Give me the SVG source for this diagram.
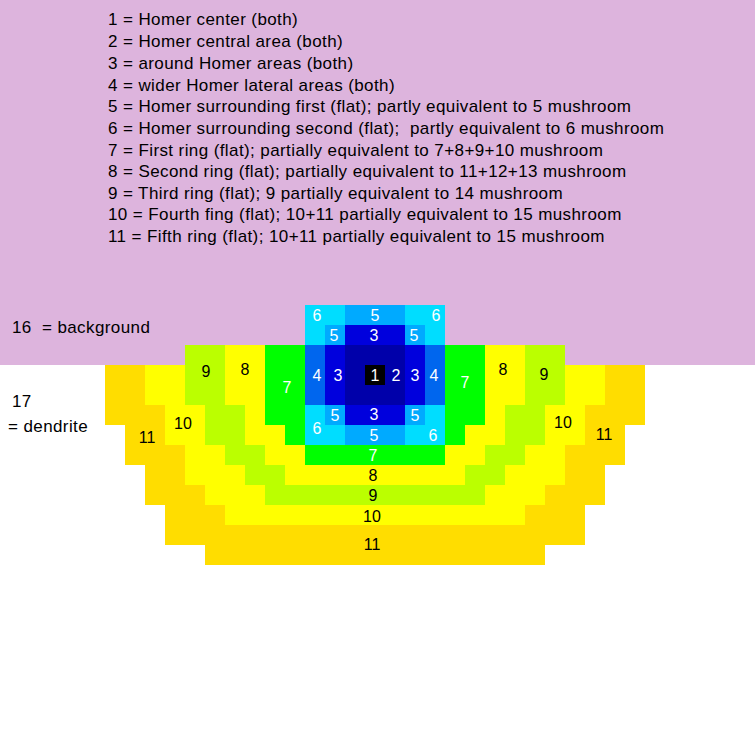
<svg xmlns="http://www.w3.org/2000/svg" width="755" height="755" viewBox="0 0 755 755">
<style>
text{font-family:"Liberation Sans",Arial,sans-serif;font-size:16px}
.lg text{font-size:17px;letter-spacing:0.4px}
.lg{fill:#000}
.w{fill:#fff;text-anchor:middle}
.b{fill:#000;text-anchor:middle}
.c1{fill:#000}
.c2{fill:#0000AA}
.c3{fill:#0000DD}
.c4{fill:#0066EE}
.c5{fill:#00AAFF}
.c6{fill:#00DDFF}
.c7{fill:#00FF00}
.c8{fill:#FFFF00}
.c9{fill:#BBFF00}
.c10{fill:#FFFF00}
.c11{fill:#FFDD00}
</style>
<rect id="background" x="0" y="0" width="755" height="755" fill="#fff"/>
<rect id="region-16" x="0" y="0" width="755" height="365" fill="#DDB4DD"/>
<g id="legend" class="lg">
<text x="108" y="25">1 = Homer center (both)</text>
<text x="108" y="47">2 = Homer central area (both)</text>
<text x="108" y="69">3 = around Homer areas (both)</text>
<text x="108" y="91">4 = wider Homer lateral areas (both)</text>
<text x="108" y="112">5 = Homer surrounding first (flat); partly equivalent to 5 mushroom</text>
<text x="108" y="134" xml:space="preserve">6 = Homer surrounding second (flat);  partly equivalent to 6 mushroom</text>
<text x="108" y="156">7 = First ring (flat); partially equivalent to 7+8+9+10 mushroom</text>
<text x="108" y="177">8 = Second ring (flat); partially equivalent to 11+12+13 mushroom</text>
<text x="108" y="199">9 = Third ring (flat); 9 partially equivalent to 14 mushroom</text>
<text x="108" y="220">10 = Fourth fing (flat); 10+11 partially equivalent to 15 mushroom</text>
<text x="108" y="242">11 = Fifth ring (flat); 10+11 partially equivalent to 15 mushroom</text>
<text x="12" y="333" xml:space="preserve">16  = background</text>
<text x="12" y="407">17</text>
<text x="8" y="432">= dendrite</text>
</g>
<g id="region-11" class="c11">
<rect x="105" y="365" width="40" height="40"/><rect x="605" y="365" width="40" height="40"/>
<rect x="105" y="405" width="60" height="20"/><rect x="585" y="405" width="60" height="20"/>
<rect x="125" y="425" width="40" height="20"/><rect x="585" y="425" width="40" height="20"/>
<rect x="125" y="445" width="60" height="20"/><rect x="565" y="445" width="60" height="20"/>
<rect x="145" y="465" width="40" height="20"/><rect x="565" y="465" width="40" height="20"/>
<rect x="145" y="485" width="60" height="20"/><rect x="545" y="485" width="60" height="20"/>
<rect x="165" y="505" width="60" height="20"/><rect x="525" y="505" width="60" height="20"/>
<rect x="165" y="525" width="420" height="20"/>
<rect x="205" y="545" width="340" height="20"/>
</g>
<g id="region-10" class="c10">
<rect x="145" y="365" width="40" height="40"/><rect x="565" y="365" width="40" height="40"/>
<rect x="165" y="405" width="40" height="40"/><rect x="545" y="405" width="40" height="40"/>
<rect x="185" y="445" width="40" height="20"/><rect x="525" y="445" width="40" height="20"/>
<rect x="185" y="465" width="60" height="20"/><rect x="505" y="465" width="60" height="20"/>
<rect x="205" y="485" width="60" height="20"/><rect x="485" y="485" width="60" height="20"/>
<rect x="225" y="505" width="300" height="20"/>
</g>
<g id="region-9" class="c9">
<rect x="185" y="345" width="40" height="60"/><rect x="525" y="345" width="40" height="60"/>
<rect x="205" y="405" width="40" height="40"/><rect x="505" y="405" width="40" height="40"/>
<rect x="225" y="445" width="40" height="20"/><rect x="485" y="445" width="40" height="20"/>
<rect x="245" y="465" width="40" height="20"/><rect x="465" y="465" width="40" height="20"/>
<rect x="265" y="485" width="220" height="20"/>
</g>
<g id="region-8" class="c8">
<rect x="225" y="345" width="40" height="60"/><rect x="485" y="345" width="40" height="60"/>
<rect x="245" y="405" width="20" height="20"/><rect x="485" y="405" width="20" height="20"/>
<rect x="245" y="425" width="40" height="20"/><rect x="465" y="425" width="40" height="20"/>
<rect x="265" y="445" width="40" height="20"/><rect x="445" y="445" width="40" height="20"/>
<rect x="285" y="465" width="180" height="20"/>
</g>
<g id="region-7" class="c7">
<rect x="265" y="345" width="40" height="80"/><rect x="445" y="345" width="40" height="80"/>
<rect x="285" y="425" width="20" height="20"/><rect x="445" y="425" width="20" height="20"/>
<rect x="305" y="445" width="140" height="20"/>
</g>
<g id="region-6" class="c6">
<rect x="305" y="305" width="40" height="20"/><rect x="405" y="305" width="40" height="20"/>
<rect x="305" y="325" width="20" height="20"/><rect x="425" y="325" width="20" height="20"/>
<rect x="305" y="405" width="20" height="20"/><rect x="425" y="405" width="20" height="20"/>
<rect x="305" y="425" width="40" height="20"/><rect x="405" y="425" width="40" height="20"/>
</g>
<g id="region-5" class="c5">
<rect x="345" y="305" width="60" height="20"/>
<rect x="325" y="325" width="20" height="20"/><rect x="405" y="325" width="20" height="20"/>
<rect x="325" y="405" width="20" height="20"/><rect x="405" y="405" width="20" height="20"/>
<rect x="345" y="425" width="60" height="20"/>
</g>
<g id="region-4" class="c4">
<rect x="305" y="345" width="20" height="60"/><rect x="425" y="345" width="20" height="60"/>
</g>
<g id="region-3" class="c3">
<rect x="345" y="325" width="60" height="20"/>
<rect x="325" y="345" width="20" height="60"/><rect x="405" y="345" width="20" height="60"/>
<rect x="345" y="405" width="60" height="20"/>
</g>
<g id="region-2" class="c2">
<rect x="345" y="345" width="60" height="60"/>
</g>
<g id="region-1" class="c1">
<rect x="365" y="365" width="20" height="20"/>
</g>
<g id="labels">
<text class="w" x="317" y="321">6</text>
<text class="w" x="375" y="321">5</text>
<text class="w" x="436" y="321">6</text>
<text class="w" x="334" y="341">5</text>
<text class="w" x="374" y="341">3</text>
<text class="w" x="414" y="341">5</text>
<text class="w" x="317" y="381">4</text>
<text class="w" x="338" y="381">3</text>
<text class="w" x="375" y="381">1</text>
<text class="w" x="396" y="381">2</text>
<text class="w" x="415" y="381">3</text>
<text class="w" x="434" y="381">4</text>
<text class="w" x="287" y="393">7</text>
<text class="w" x="465" y="388">7</text>
<text class="b" x="245" y="375">8</text>
<text class="b" x="206" y="377">9</text>
<text class="b" x="503" y="375">8</text>
<text class="b" x="544" y="380">9</text>
<text class="b" x="183" y="429">10</text>
<text class="b" x="147" y="443">11</text>
<text class="b" x="563" y="428">10</text>
<text class="b" x="604" y="440">11</text>
<text class="w" x="335" y="421">5</text>
<text class="w" x="374" y="420">3</text>
<text class="w" x="415" y="421">5</text>
<text class="w" x="317" y="434">6</text>
<text class="w" x="374" y="441">5</text>
<text class="w" x="433" y="441">6</text>
<text class="w" x="373" y="461">7</text>
<text class="b" x="373" y="481">8</text>
<text class="b" x="373" y="501">9</text>
<text class="b" x="372" y="522">10</text>
<text class="b" x="372" y="550">11</text>
</g>
</svg>
